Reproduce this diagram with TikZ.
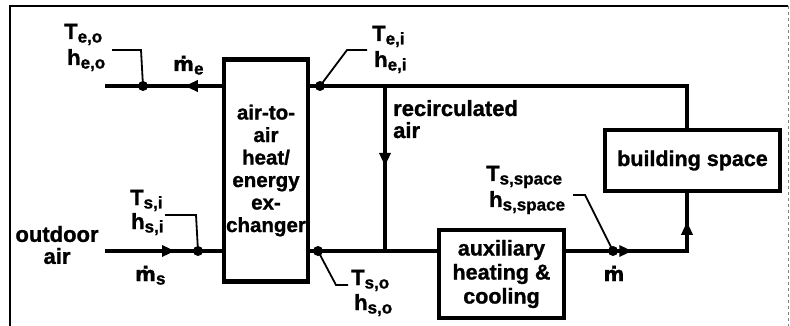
\documentclass[tikz,border=0pt]{standalone}
\usepackage{fontspec}
\setmainfont{Liberation Sans}[BoldFeatures={FakeBold=1.2}]
\newfontfamily\dvfont{DejaVu Sans}[BoldFeatures={FakeBold=1.2}]
\usetikzlibrary{arrows.meta,decorations.markings}
\newcommand\sbs[1]{\raisebox{-0.3ex}{\fontsize{17}{17}\selectfont #1}}
\newcommand\mdot{{\dvfont\fontsize{20}{20}\selectfont ṁ}}
\tikzset{
  flow/.style={line width=3.5pt},
  boxst/.style={draw, line width=4.5pt, inner sep=0pt, align=center},
  lead/.style={line width=1.8pt},
  dotst/.style={circle, fill, inner sep=0pt, minimum size=10pt},
  txt/.style={font=\fontsize{22}{22}\selectfont\bfseries, inner sep=0pt},
  arrat/.style={postaction={decorate, decoration={markings, mark=at position #1 with {\arrow{Triangle[length=13pt,width=11pt]}}}}}
}
\begin{document}
\begin{tikzpicture}[x=1pt,y=-1pt]
\useasboundingbox (0,0) rectangle (790,326);
% frame
\draw[line width=2pt] (10,326) -- (10,6) -- (788,6);
\draw[line width=0.8pt, gray, dashed] (788,6) -- (788,326);
% boxes
\node[boxst, minimum width=84pt, minimum height=222pt, font=\fontsize{20.5}{22.5}\selectfont\bfseries] (ex) at (266,170.5) {air-to-\\air\\heat/\\energy\\ex-\\changer};
\node[boxst, minimum width=175pt, minimum height=61pt, font=\fontsize{21.5}{24}\selectfont\bfseries] (bs) at (692.5,160.5) {building space};
\node[boxst, minimum width=125pt, minimum height=88pt, font=\fontsize{21.5}{24}\selectfont\bfseries] (aux) at (501.5,274) {auxiliary\\heating \&\\cooling};
% coordinates
\coordinate (eoEnd) at (105,86);
\coordinate (retX) at (687,86);
\coordinate (rcTop) at (385,86);
\coordinate (rcBot) at (385,251);
\coordinate (oaEnd) at (105,251);
\coordinate (supX) at (687,251);
% flow lines
\draw[flow, arrat=37pt] (ex.west |- eoEnd) -- (eoEnd);
\draw[flow] (bs.north -| retX) -- (retX) -- (ex.east |- retX);
\draw[flow, arrat=80pt] (rcTop) -- (rcBot);
\draw[flow, arrat=70pt] (oaEnd) -- (ex.west |- oaEnd);
\draw[flow] (ex.east |- oaEnd) -- (aux.west |- oaEnd);
\draw[flow, arrat=66pt, arrat=150pt] (aux.east |- supX) -- (supX) -- (bs.south -| supX);
% dots
\node[dotst] (dEO) at (143,86) {};
\node[dotst] (dEI) at (320,86) {};
\node[dotst] (dSI) at (198,251) {};
\node[dotst] (dSO) at (318,251) {};
\node[dotst] (dSP) at (613,251) {};
% leaders
\coordinate (lEOa) at (141,50); \coordinate (lEOb) at (112,50);
\coordinate (lEIa) at (347,50); \coordinate (lEIb) at (367,50);
\coordinate (lSIa) at (196,215); \coordinate (lSIb) at (165,215);
\coordinate (lSOa) at (336,285); \coordinate (lSOb) at (348,285);
\coordinate (lSPa) at (585,195); \coordinate (lSPb) at (573,195);
\draw[lead] (dEO.center) -- (lEOa) -- (lEOb);
\draw[lead] (dEI.center) -- (lEIa) -- (lEIb);
\draw[lead] (dSI.center) -- (lSIa) -- (lSIb);
\draw[lead] (dSO.center) -- (lSOa) -- (lSOb);
\draw[lead] (dSP.center) -- (lSPa) -- (lSPb);
% labels
\node[txt, anchor=base west] (tEO) at (64,39) {T\sbs{e,o}};
\node[txt, anchor=base west] (hEO) at (67,65) {h\sbs{e,o}};
\node[txt, anchor=base west] (mE) at (173,71) {\mdot\sbs{e}};
\node[txt, anchor=base west] (tEI) at (372,41) {T\sbs{e,i}};
\node[txt, anchor=base west] (hEI) at (374,67) {h\sbs{e,i}};
\node[txt, anchor=base west, align=left] (rca) at (393,138) {recirculated\\air};
\node[txt, anchor=base west] (tSI) at (130,205) {T\sbs{s,i}};
\node[txt, anchor=base west] (hSI) at (131,229) {h\sbs{s,i}};
\node[txt, align=center] (oa) at (57,245) {outdoor\\air};
\node[txt, anchor=base west] (mS) at (135,281) {\mdot\sbs{s}};
\node[txt, anchor=base west] (tSO) at (351,285) {T\sbs{s,o}};
\node[txt, anchor=base west] (hSO) at (354,310) {h\sbs{s,o}};
\node[txt, anchor=base west] (tSP) at (486,181) {T\sbs{s,space}};
\node[txt, anchor=base west] (hSP) at (489,207) {h\sbs{s,space}};
\node[txt, anchor=base] (mM) at (614,281) {\mdot};
\end{tikzpicture}
\end{document}
